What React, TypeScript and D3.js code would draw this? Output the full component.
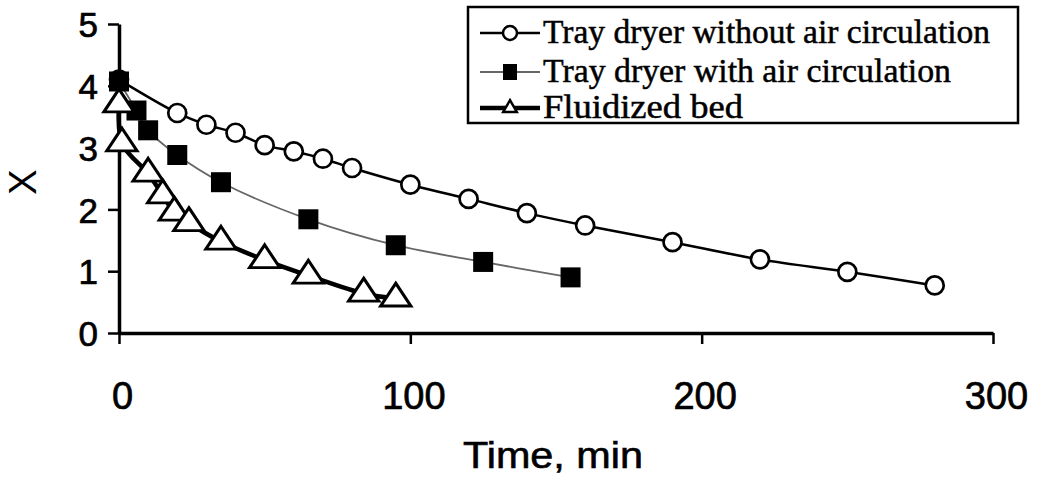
import React, { useEffect, useRef } from "react";
import * as d3 from "d3";

// drying curves, moisture content X vs time (min)
const noAirTime = [0, 20, 30, 40, 50, 60, 70, 80, 100, 120, 140, 160, 190, 220, 250, 280];
const noAirX = [4.1, 3.56, 3.37, 3.24, 3.04, 2.94, 2.82, 2.67, 2.4, 2.17, 1.94, 1.74, 1.47, 1.19, 0.99, 0.77];

const airTime = [0, 6, 10, 20, 35, 65, 95, 125, 155];
const airX = [4.07, 3.6, 3.28, 2.88, 2.44, 1.84, 1.42, 1.15, 0.9];

const fluidTime = [0, 1, 10, 15, 19, 24, 35, 50, 65, 84, 95];
const fluidX = [3.7, 3.07, 2.58, 2.23, 1.95, 1.78, 1.48, 1.18, 0.93, 0.64, 0.56];

const xTicks = [0, 100, 200, 300];
const yTicks = [0, 1, 2, 3, 4, 5];

const seriesNames = [
  "Tray dryer without air circulation",
  "Tray dryer with air circulation",
  "Fluidized bed",
];

const App = () => {
  const svgRef = useRef<SVGSVGElement>(null);

  useEffect(() => {
    const width = 1037;
    const height = 484;
    const svg = d3.select(svgRef.current).attr("width", width).attr("height", height);
    svg.selectAll("*").remove();

    const x = d3.scaleLinear().domain([0, 300]).range([119, 993]);
    const y = d3.scaleLinear().domain([0, 5]).range([333, 24]);

    const sans = "'Liberation Sans', Arial, sans-serif";

    // y axis
    const gy = svg.append("g").attr("transform", `translate(${x(0)},0)`);
    gy.call(d3.axisLeft(y).tickValues(yTicks).tickFormat(d3.format("d")).tickSize(11).tickSizeOuter(0).tickPadding(10));
    // x axis
    const gx = svg.append("g").attr("transform", `translate(0,${y(0)})`);
    gx.call(d3.axisBottom(x).tickValues(xTicks).tickFormat(d3.format("d")).tickSize(11).tickSizeOuter(0).tickPadding(38));

    [gx, gy].forEach((g) => {
      g.select(".domain").attr("stroke", "#000").attr("stroke-width", 3.5);
      g.selectAll(".tick line").attr("stroke", "#000").attr("stroke-width", 2.5);
      g.selectAll(".tick text").attr("font-family", sans).attr("fill", "#000")
        .attr("stroke", "#000").attr("stroke-width", 0.7);
    });
    gy.selectAll(".tick text").attr("font-size", 35).attr("dy", "0.36em");
    gx.selectAll(".tick text").attr("font-size", 38).attr("dx", 3);

    svg.append("text")
      .attr("x", 463).attr("y", 468)
      .attr("font-family", sans).attr("font-size", 36)
      .attr("stroke", "#000").attr("stroke-width", 0.6)
      .attr("textLength", 180).attr("lengthAdjust", "spacingAndGlyphs")
      .text("Time, min");

    svg.append("text")
      .attr("transform", "translate(36,182) rotate(-90)")
      .attr("text-anchor", "middle")
      .attr("font-family", sans).attr("font-size", 38)
      .text("X");

    const line = d3.line<[number, number]>()
      .x((d) => x(d[0]))
      .y((d) => y(d[1]))
      .curve(d3.curveCatmullRom.alpha(0.5));

    const noAir = noAirTime.map((t, i) => [t, noAirX[i]] as [number, number]);
    const air = airTime.map((t, i) => [t, airX[i]] as [number, number]);
    const fluid = fluidTime.map((t, i) => [t, fluidX[i]] as [number, number]);

    svg.append("path").datum(noAir).attr("d", line).attr("fill", "none").attr("stroke", "#000").attr("stroke-width", 2.5);
    svg.append("path").datum(air).attr("d", line).attr("fill", "none").attr("stroke", "#666").attr("stroke-width", 1.8);
    svg.append("path").datum(fluid).attr("d", line).attr("fill", "none").attr("stroke", "#000").attr("stroke-width", 4.5);

    const tri = d3.symbol().type(d3.symbolTriangle).size(300);

    // markers
    svg.selectAll(".circ").data(noAir).enter().append("circle")
      .attr("cx", (d) => x(d[0])).attr("cy", (d) => y(d[1])).attr("r", 9)
      .attr("fill", "#fff").attr("stroke", "#000").attr("stroke-width", 2.7);

    svg.selectAll(".sq").data(air).enter().append("rect")
      .attr("x", (d) => x(d[0]) - 10).attr("y", (d) => y(d[1]) - 10)
      .attr("width", 20).attr("height", 20).attr("fill", "#000");

    svg.selectAll(".tri").data(fluid).enter().append("path")
      .attr("d", tri)
      .attr("transform", (d) => `translate(${x(d[0])},${y(d[1])}) scale(1.15,1)`)
      .attr("fill", "#fff").attr("stroke", "#000").attr("stroke-width", 2.8);

    // legend
    const lg = svg.append("g");
    lg.append("rect").attr("x", 468).attr("y", 7).attr("width", 550).attr("height", 116)
      .attr("fill", "#fff").attr("stroke", "#000").attr("stroke-width", 2.5);

    const rows = [33, 72, 108];
    const widths = [447, 408, 200];
    const styles = [
      { stroke: "#000", w: 2.5 },
      { stroke: "#666", w: 1.8 },
      { stroke: "#000", w: 4.5 },
    ];
    seriesNames.forEach((name, i) => {
      const cy = rows[i];
      lg.append("line").attr("x1", 480).attr("x2", 540).attr("y1", cy).attr("y2", cy)
        .attr("stroke", styles[i].stroke).attr("stroke-width", styles[i].w);
      if (i === 0) {
        lg.append("circle").attr("cx", 510).attr("cy", cy).attr("r", 7)
          .attr("fill", "#fff").attr("stroke", "#000").attr("stroke-width", 2.5);
      } else if (i === 1) {
        lg.append("rect").attr("x", 503).attr("y", cy - 8).attr("width", 14).attr("height", 16).attr("fill", "#000");
      } else {
        lg.append("path").attr("d", d3.symbol().type(d3.symbolTriangle).size(80))
          .attr("transform", `translate(510,${cy})`)
          .attr("fill", "#fff").attr("stroke", "#000").attr("stroke-width", 2.5);
      }
      lg.append("text")
        .attr("x", 543).attr("y", cy + 10)
        .attr("font-family", "'Liberation Serif', 'Times New Roman', serif")
        .attr("font-size", 34)
        .attr("stroke", "#000").attr("stroke-width", 0.5)
        .attr("textLength", widths[i]).attr("lengthAdjust", "spacingAndGlyphs")
        .text(name);
    });
  }, []);

  return (
    <div style={{ position: "absolute", left: 0, top: 0 }}>
      <svg ref={svgRef}></svg>
    </div>
  );
};

export default App;
